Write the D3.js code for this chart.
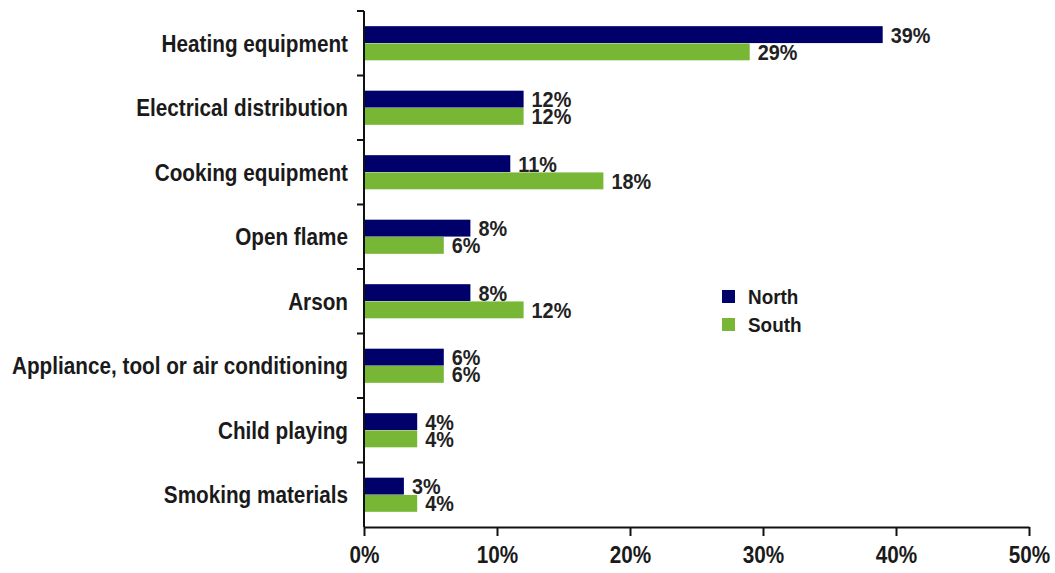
<!DOCTYPE html>
<html><head><meta charset="utf-8">
<script src="https://cdn.jsdelivr.net/npm/d3@7"></script>
<style>
body{margin:0;background:#fff;}
text{font-family:"Liberation Sans","Arial",sans-serif;font-weight:bold;}
</style></head>
<body><svg id="c" width="1055" height="573"></svg>
<script>
const categories = ["Heating equipment","Electrical distribution","Cooking equipment","Open flame","Arson","Appliance, tool or air conditioning","Child playing","Smoking materials"];
const north = [39,12,11,8,8,6,4,3];
const south = [29,12,18,6,12,6,4,4];
const seriesNames = ["North","South"];
const colors = ["#00006b","#78b735"];
const xTicks = [0,10,20,30,40,50];

const svg = d3.select("#c");
const pL = 364, pR = 1029, pT = 11, pB = 527;
const x = d3.scaleLinear().domain([0,50]).range([pL,pR]);
const y = d3.scaleBand().domain(categories).range([pT,pB]).paddingInner(0.46).paddingOuter(0.23);
const sub = d3.scaleBand().domain(seriesNames).range([0,y.bandwidth()]).padding(0.02);

const data = categories.map((c,i)=>({c, vals:[north[i],south[i]]}));
const allTexts = [];

const g = svg.append("g");
data.forEach(d=>{
  d.vals.forEach((v,j)=>{
    g.append("rect")
      .attr("x", x(0)).attr("y", y(d.c)+sub(seriesNames[j]))
      .attr("width", x(v)-x(0)).attr("height", sub.bandwidth())
      .attr("fill", colors[j]);
    allTexts.push(g.append("text")
      .attr("x", x(v)+8).attr("y", y(d.c)+sub(seriesNames[j])+sub.bandwidth()/2)
      .attr("dy","0.36em")
      .attr("font-size",22).attr("fill","#222")
      .text(v+"%"));
  });
});

// y axis
const yStep = (pB-pT)/categories.length;
svg.append("line").attr("x1",pL).attr("x2",pL).attr("y1",pT).attr("y2",pB).attr("stroke","#111").attr("stroke-width",2);
d3.range(categories.length).forEach(i=>{
  svg.append("line").attr("x1",pL-7).attr("x2",pL).attr("y1",pT+i*yStep).attr("y2",pT+i*yStep).attr("stroke","#111").attr("stroke-width",2);
});
const catTexts = categories.map(c=>
  svg.append("text").attr("x",348).attr("y",y(c)+y.bandwidth()/2).attr("dy","0.36em")
    .attr("text-anchor","end").attr("font-size",23).attr("fill","#1a1a1a").text(c));
allTexts.push(...catTexts);

// x axis
const xa = svg.append("g").attr("transform",`translate(0,${pB})`)
  .call(d3.axisBottom(x).tickValues(xTicks).tickSize(9).tickSizeOuter(0).tickPadding(11).tickFormat(d=>d+"%"));
xa.select(".domain").attr("stroke","#111").attr("stroke-width",2);
xa.selectAll(".tick line").attr("stroke","#111").attr("stroke-width",2);
xa.selectAll("text").attr("font-size",23).attr("fill","#1a1a1a").attr("font-family",null)
  .each(function(){ allTexts.push(d3.select(this)); });

// legend
const lg = svg.append("g").attr("transform","translate(722,290)");
seriesNames.forEach((s,i)=>{
  lg.append("rect").attr("x",0).attr("y",i*28).attr("width",13).attr("height",13).attr("fill",colors[i]);
  allTexts.push(lg.append("text").attr("x",26).attr("y",i*28+6.5).attr("dy","0.36em").attr("font-size",21).attr("fill","#1a1a1a").text(s));
});

// condense the font to match a narrow typeface
const longest = catTexts[5].node().getComputedTextLength();
const factor = 336/longest;
allTexts.forEach(t=>{
  const w = t.node().getComputedTextLength();
  t.attr("textLength", w*factor).attr("lengthAdjust","spacingAndGlyphs");
});
</script></body></html>
